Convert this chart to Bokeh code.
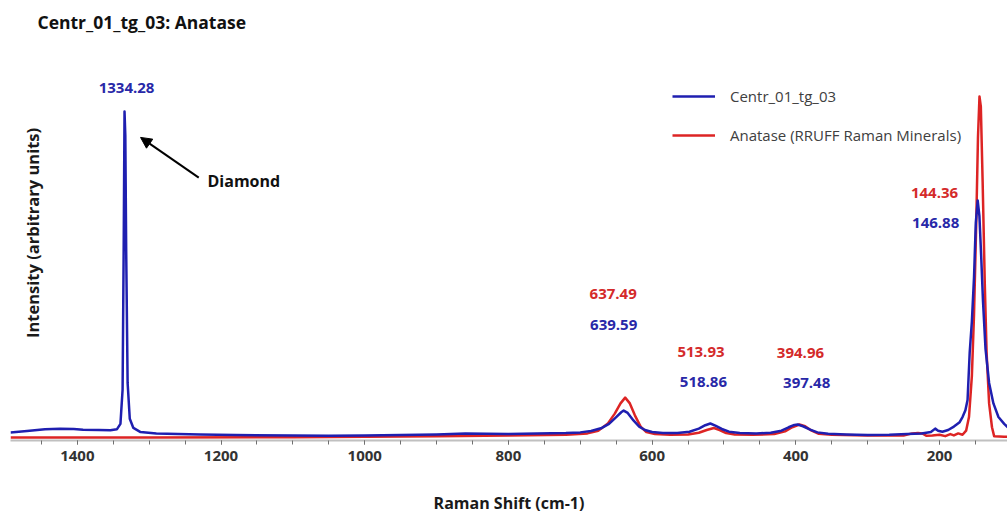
import math
from bokeh.plotting import figure
from bokeh.models import Range1d, FixedTicker, Label, Arrow, NormalHead, Legend, LegendItem
from bokeh.embed import file_html
from bokeh.resources import INLINE

# ---------------- data ----------------
blue_shift = [1493, 1470, 1445, 1424, 1405, 1392, 1370, 1354, 1345, 1340, 1337, 1335.5, 1334.3,
              1333.2, 1332, 1330, 1327, 1322, 1312, 1290, 1260, 1229, 1180, 1100, 1050, 1000,
              950, 900, 860, 830, 800, 760, 720, 700, 685, 670, 660, 650, 643, 639.6, 634, 626,
              618, 610, 600, 585, 565, 548, 535, 526, 519, 512, 503, 493, 478, 455, 435, 420,
              410, 402, 397.5, 390, 380, 370, 355, 330, 300, 270, 245, 225, 212, 206, 202, 196,
              188, 180, 172, 168, 164, 161, 158, 155, 152, 149.5, 146.9, 144.5, 142, 139.5, 136,
              131, 125, 118, 110, 105]
blue_int = [0.015, 0.019, 0.024, 0.026, 0.025, 0.023, 0.022, 0.021, 0.024, 0.040, 0.14, 0.55, 0.956,
            0.886, 0.55, 0.16, 0.055, 0.028, 0.016, 0.012, 0.010, 0.009, 0.007, 0.006, 0.005, 0.006,
            0.007, 0.009, 0.012, 0.011, 0.010, 0.012, 0.013, 0.015, 0.019, 0.028, 0.040, 0.060, 0.074,
            0.079, 0.072, 0.050, 0.032, 0.022, 0.016, 0.013, 0.013, 0.017, 0.026, 0.036, 0.041, 0.035,
            0.025, 0.017, 0.013, 0.012, 0.014, 0.020, 0.030, 0.037, 0.038, 0.033, 0.023, 0.015, 0.011,
            0.009, 0.007, 0.008, 0.010, 0.012, 0.016, 0.026, 0.020, 0.017, 0.022, 0.032, 0.045, 0.060,
            0.080, 0.110, 0.250, 0.340, 0.470, 0.630, 0.695, 0.650, 0.530, 0.400, 0.260, 0.160, 0.100,
            0.060, 0.040, 0.030]

red_shift = [1493, 1300, 1100, 1000, 900, 800, 720, 690, 675, 662, 652, 644, 637.5, 631, 624, 616,
             608, 596, 575, 550, 535, 524, 514, 506, 497, 485, 460, 430, 415, 405, 395, 387, 378,
             368, 350, 300, 250, 238, 230, 224, 218, 210, 200, 192, 185, 180, 174, 168, 163, 159,
             155, 152, 149, 146.5, 144.4, 142.5, 140, 137, 134.5, 131, 127, 124, 110, 105]
red_int = [0.0, 0.0, 0.001, 0.002, 0.004, 0.006, 0.008, 0.012, 0.020, 0.040, 0.070, 0.100, 0.117,
           0.100, 0.065, 0.032, 0.016, 0.010, 0.008, 0.009, 0.014, 0.022, 0.028, 0.022, 0.013, 0.009,
           0.008, 0.010, 0.018, 0.030, 0.038, 0.033, 0.020, 0.011, 0.008, 0.006, 0.006, 0.012, 0.013,
           0.012, 0.005, 0.006, 0.008, 0.004, 0.010, 0.006, 0.012, 0.008, 0.020, 0.060, 0.180, 0.360,
           0.620, 0.880, 1.000, 0.970, 0.750, 0.450, 0.250, 0.100, 0.030, 0.004, 0.002, 0.002]

series_names = ["Centr_01_tg_03", "Anatase (RRUFF Raman Minerals)"]
x_tick_values = [1400, 1200, 1000, 800, 600, 400, 200]
x_minor_ticks = [1450, 1400, 1350, 1300, 1250, 1200, 1150, 1100, 1050, 1000, 950, 900, 850, 800,
                 750, 700, 650, 600, 550, 500, 450, 400, 350, 300, 250, 200, 150]

diamond_peak = 1334.28
blue_peaks = [639.59, 518.86, 397.48, 146.88]
red_peaks = [637.49, 513.93, 394.96, 144.36]

title_text = "Centr_01_tg_03: Anatase"
x_label = "Raman Shift (cm-1)"
y_label = "Intensity (arbitrary units)"

# ---------------- styling ----------------
BLUE = "#1f1fb0"
RED = "#dd2424"
BLUE_TXT = "#2828a8"
RED_TXT = "#d42a2a"
FONT = "Open Sans"

p = figure(width=1007, height=517, output_backend="svg", toolbar_location=None,
           x_range=Range1d(1493, 105.4), y_range=Range1d(-0.0088, 1.2815),
           y_axis_location=None, min_border_left=10, min_border_right=0,
           min_border_top=0, min_border_bottom=77)
p.outline_line_color = None
p.xgrid.visible = False
p.ygrid.visible = False
p.background_fill_color = "white"
p.border_fill_color = "white"

r_red = p.line(red_shift, red_int, line_color=RED, line_width=2.5, line_join="round")
r_blue = p.line(blue_shift, blue_int, line_color=BLUE, line_width=2.5, line_join="round")

ax = p.xaxis[0]
ax.ticker = FixedTicker(ticks=x_tick_values, minor_ticks=x_minor_ticks)
ax.axis_line_color = "#c0c0c0"
ax.axis_line_width = 2
ax.major_tick_line_color = "#707070"
ax.minor_tick_line_color = "#707070"
ax.major_tick_in = 0
ax.major_tick_out = 4
ax.minor_tick_in = 0
ax.minor_tick_out = 4
ax.major_label_text_font = FONT
ax.major_label_text_font_style = "bold"
ax.major_label_text_font_size = "15px"
ax.major_label_text_color = "#333333"
ax.major_label_text_line_height = 1.0
ax.major_label_standoff = 6
ax.axis_label = x_label
ax.axis_label_text_font = FONT
ax.axis_label_text_font_style = "bold"
ax.axis_label_text_font_size = "16px"
ax.axis_label_text_color = "#1a1a1a"
ax.axis_label_text_line_height = 1.0
ax.axis_label_standoff = 28

legend = Legend(items=[LegendItem(label=series_names[0], renderers=[r_blue]),
                       LegendItem(label=series_names[1], renderers=[r_red])],
                location=(662, 295), orientation="vertical",
                glyph_width=43, glyph_height=20, label_height=20, label_standoff=15,
                spacing=19, padding=0, margin=0,
                border_line_color=None, background_fill_alpha=0,
                label_text_font=FONT, label_text_font_size="15px", label_text_color="#404040")
p.add_layout(legend)

# title and y label (inside the drawing area, as in the reference)
p.add_layout(Label(x=1455.4, y=1.217, text=title_text, text_font=FONT, text_font_style="bold",
                   text_font_size="17.5px", text_color="#111111", text_align="left",
                   text_baseline="middle"))
p.add_layout(Label(x=1462, y=0.60, text=y_label, angle=math.pi / 2, text_font=FONT,
                   text_font_style="bold", text_font_size="16.5px", text_color="#1a1a1a",
                   text_align="center", text_baseline="middle"))

# peak labels: (value, colour, x pixel offset, y position)
label_layout = [
    (diamond_peak, BLUE_TXT, 2, 1.026),
    (red_peaks[0], RED_TXT, -12, 0.422), (blue_peaks[0], BLUE_TXT, -10, 0.331),
    (red_peaks[1], RED_TXT, -13, 0.252), (blue_peaks[1], BLUE_TXT, -7, 0.164),
    (red_peaks[2], RED_TXT, 1, 0.249), (blue_peaks[2], BLUE_TXT, 9, 0.161),
    (red_peaks[3], RED_TXT, -45, 0.718), (blue_peaks[3], BLUE_TXT, -42, 0.628),
]
for val, col, xoff, ypos in label_layout:
    p.add_layout(Label(x=val, y=ypos, x_offset=xoff, text=f"{val:.2f}", text_font=FONT,
                       text_font_style="bold", text_font_size="15px", text_color=col,
                       text_align="center", text_baseline="middle"))

# Diamond annotation
p.add_layout(Label(x=1218.8, y=0.751, text="Diamond", text_font=FONT, text_font_style="bold",
                   text_font_size="16px", text_color="#111111", text_align="left",
                   text_baseline="middle"))
p.add_layout(Arrow(x_start=1231, y_start=0.762, x_end=1312, y_end=0.880,
                   line_color="black", line_width=2,
                   end=NormalHead(size=11, fill_color="black", line_color="black")))

open("out.html", "w").write(file_html(p, INLINE))
